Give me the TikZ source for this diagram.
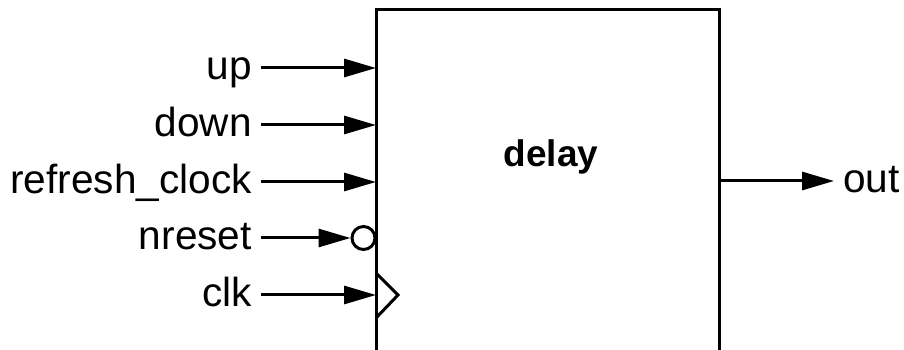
\documentclass[tikz,border=0pt]{standalone}
\usepackage{fontspec}
\setmainfont{Liberation Sans}
\usetikzlibrary{arrows.meta}
\tikzset{
  wire/.style={line width=3pt, -{Triangle[length=32pt,width=18pt]}},
  port/.style={font=\fontsize{40.6}{48}\selectfont, inner sep=0pt},
}
\begin{document}
\begin{tikzpicture}[x=1pt,y=1pt]
\useasboundingbox (0,0) rectangle (904,350);
\clip (0,0) rectangle (904,350);

% block body, runs past the bottom edge
\node[draw, line width=3pt, minimum width=343pt, minimum height=400pt, inner sep=0pt] (dly) at (547.5,140) {};
\node[font=\fontsize{37}{44}\selectfont\bfseries, inner sep=0pt, anchor=base] (dlyname) at (551,183) {delay};

% plain inputs
\foreach \nm/\txt/\y in {up/up/282, dn/down/225, rc/refresh\_clock/168}{
  \node[port, anchor=base east] (\nm-lbl) at (252,\y-12) {\txt};
  \coordinate (\nm-in) at (261,\y);
  \coordinate (\nm-pin) at (376,\y);
  \draw[wire] (\nm-in) -- (\nm-pin);
}

% active low reset
\node[port, anchor=base east] (nr-lbl) at (252,100) {nreset};
\node[circle, draw, line width=3pt, minimum size=23pt, inner sep=0pt] (nr-bub) at (363.5,112) {};
\coordinate (nr-in) at (261,112);
\draw[wire] (nr-in) -- (nr-bub.west);

% clock with edge marker
\node[port, anchor=base east] (ck-lbl) at (252,43) {clk};
\coordinate (ck-in) at (261,55);
\coordinate (ck-pin) at (376,55);
\draw[wire] (ck-in) -- (ck-pin);
\draw[line width=3pt] (376,77) -- (398,55) -- (376,32);

% output
\coordinate (out-pin) at (719,169);
\coordinate (out-end) at (834,169);
\draw[wire] (out-pin) -- (out-end);
\node[port, anchor=base west] (out-lbl) at (843,157) {out};
\end{tikzpicture}
\end{document}
